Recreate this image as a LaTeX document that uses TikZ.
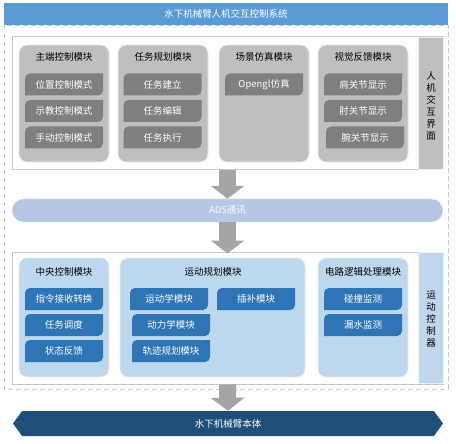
\documentclass[tikz,border=0pt]{standalone}
\usepackage{fontspec}
\setmainfont{Noto Sans CJK SC}
\usetikzlibrary{arrows.meta,shapes.symbols}
\definecolor{titleblue}{HTML}{5B9BD5}
\definecolor{modgray}{HTML}{BFBFBF}
\definecolor{btngray}{HTML}{7F7F7F}
\definecolor{adsblue}{HTML}{B4C7E7}
\definecolor{modblue}{HTML}{BDD7EE}
\definecolor{btnblue}{HTML}{2E75B6}
\definecolor{bodyblue}{HTML}{1F4E79}
\definecolor{arrowgray}{HTML}{A5A5A5}
\definecolor{framegray}{HTML}{C8C8C8}
\tikzset{
  txt/.style={font=\fontsize{9.5}{11}\selectfont},
  panelbox/.style={draw=framegray, line width=1pt, fill=white, minimum width=431pt, inner sep=0},
  strip/.style={fill=#1, draw=white!90!gray, minimum width=25pt, inner sep=0},
  module/.style={rounded corners=8pt, fill=#1, draw=white!85!gray, line width=0.8pt, inner sep=0},
  modtitle/.style={txt, text=black, inner sep=0},
  btn/.style={txt, text=white, minimum width=78pt, minimum height=22pt, inner sep=0,
    path picture={\fill[#1] ([yshift=-5pt]path picture bounding box.north west)
      arc[start angle=180,end angle=90,radius=5pt] -- (path picture bounding box.north east)
      -- ([yshift=5pt]path picture bounding box.south east)
      arc[start angle=0,end angle=-90,radius=5pt] -- (path picture bounding box.south west) -- cycle;}},
  fatarrow/.style={draw=arrowgray, line width=17pt, -{Triangle[width=33pt,length=13pt]}, arrowgray},
}
\begin{document}
\begin{tikzpicture}[x=1pt,y=-1pt]
\useasboundingbox (0,0) rectangle (456,444);
% outer dashed frame
\draw[framegray, dashed, line width=0.8pt, dash pattern=on 5pt off 3pt] (4,25) rectangle (448,389);
% title
\node[fill=titleblue, text=white, txt, minimum width=444pt, minimum height=22pt, inner sep=0] (title) at (226,14) {水下机械臂人机交互控制系统};

% upper panel
\node[panelbox, minimum height=133pt] (upper) at (227.5,103.5) {};
\node[strip=modgray, minimum height=132pt] (ustrip) at (430.5,103.5) {};
\node[txt, align=center, inner sep=0, text=black] (ulabel) at (431,106) {人\\[1pt]机\\[1pt]交\\[1pt]互\\[1pt]界\\[1pt]面};

\node[module=modgray, minimum width=90pt, minimum height=117pt] (m1) at (64,103.5) {};
\node[module=modgray, minimum width=90pt, minimum height=117pt] (m2) at (163,103.5) {};
\node[module=modgray, minimum width=90pt, minimum height=117pt] (m3) at (264,103.5) {};
\node[module=modgray, minimum width=90pt, minimum height=117pt] (m4) at (363,103.5) {};
\node[modtitle] (t1) at (64,57) {主端控制模块};
\node[modtitle] (t2) at (163,57) {任务规划模块};
\node[modtitle] (t3) at (264,57) {场景仿真模块};
\node[modtitle] (t4) at (363,57) {视觉反馈模块};

\node[btn=btngray] (b11) at (64,84.5) {位置控制模式};
\node[btn=btngray] (b12) at (64,111) {示教控制模式};
\node[btn=btngray] (b13) at (64,137.5) {手动控制模式};
\node[btn=btngray] (b21) at (162.5,84.5) {任务建立};
\node[btn=btngray] (b22) at (162.5,111) {任务编辑};
\node[btn=btngray] (b23) at (162.5,137.5) {任务执行};
\node[btn=btngray] (b31) at (264,84.5) {Opengl仿真};
\node[btn=btngray] (b41) at (363,84.5) {肩关节显示};
\node[btn=btngray] (b42) at (363,111) {肘关节显示};
\node[btn=btngray] (b43) at (365,137.5) {腕关节显示};

% ADS bar
\node[fill=adsblue, draw=white!85!gray, rounded corners=11.5pt, minimum width=431pt, minimum height=23pt, inner sep=0, text=white, txt] (ads) at (227.5,210.5) {ADS通讯};

% lower panel
\node[panelbox, minimum height=132pt] (lower) at (227.5,318) {};
\node[strip=modblue, minimum height=131pt] (lstrip) at (430.5,318) {};
\node[txt, align=center, inner sep=0, text=black] (llabel) at (431,319) {运\\[1pt]动\\[1pt]控\\[1pt]制\\[1pt]器};

\node[module=modblue, minimum width=90pt, minimum height=119pt] (n1) at (64,317.5) {};
\node[module=modblue, minimum width=185pt, minimum height=119pt] (n2) at (212.5,317.5) {};
\node[module=modblue, minimum width=90pt, minimum height=119pt] (n3) at (363,317.5) {};
\node[modtitle] (s1) at (64,272) {中央控制模块};
\node[modtitle] (s2) at (213,272) {运动规划模块};
\node[modtitle] (s3) at (363,272) {电路逻辑处理模块};

\node[btn=btnblue] (c11) at (64,299) {指令接收转换};
\node[btn=btnblue] (c12) at (64,325) {任务调度};
\node[btn=btnblue] (c13) at (64,351) {状态反馈};
\node[btn=btnblue] (c21) at (169,299) {运动学模块};
\node[btn=btnblue] (c22) at (171,325) {动力学模块};
\node[btn=btnblue] (c23) at (171,351) {轨迹规划模块};
\node[btn=btnblue] (c24) at (256,299) {插补模块};
\node[btn=btnblue] (c31) at (363,299) {碰撞监测};
\node[btn=btnblue] (c32) at (363,325) {漏水监测};

% body
\node[signal, signal to=west and east, signal pointer angle=108, fill=bodyblue, minimum width=430pt, minimum height=25pt, inner sep=0, text=white, txt] (body) at (228,423.5) {水下机械臂本体};

% arrows
\draw[fatarrow] (upper.south) -- (ads.north);
\draw[fatarrow] (ads.south) -- ([yshift=-2pt]lower.north);
\draw[fatarrow] (lower.south) -- (body.north);
\end{tikzpicture}
\end{document}
